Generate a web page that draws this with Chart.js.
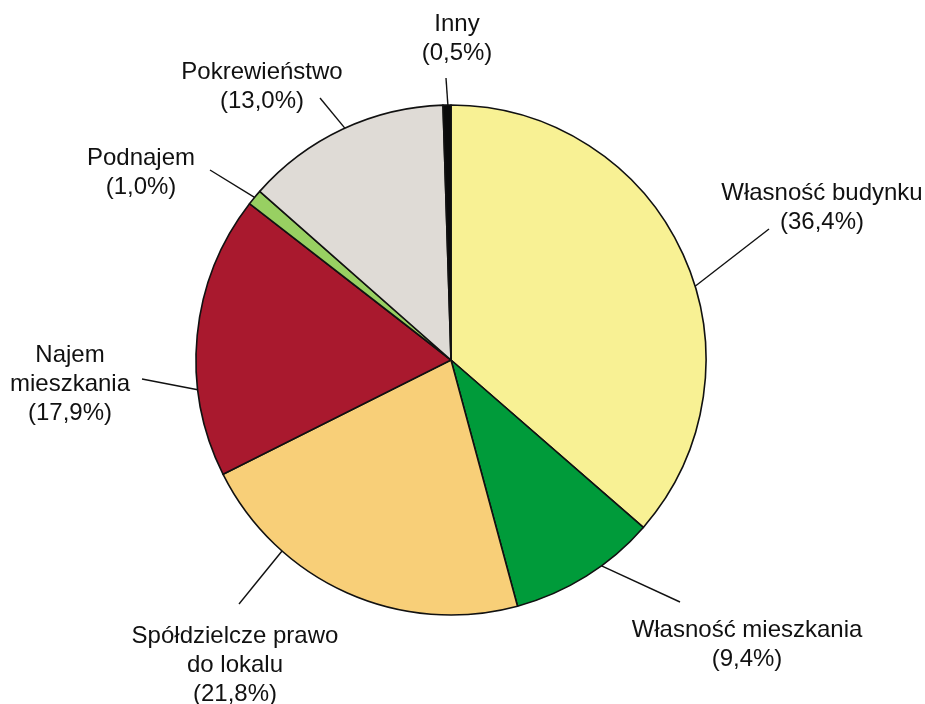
<!DOCTYPE html>
<html>
<head>
<meta charset="utf-8">
<script src="https://cdn.jsdelivr.net/npm/chart.js@4"></script>
<style>
html,body{margin:0;padding:0;background:#fff;}
#wrap{width:925px;height:704px;position:relative;}
</style>
</head>
<body>
<div id="wrap"><canvas id="c" width="925" height="704"></canvas></div>
<script>
// ---- data ----
const categories = [
  ["Własność budynku"],
  ["Własność mieszkania"],
  ["Spółdzielcze prawo", "do lokalu"],
  ["Najem", "mieszkania"],
  ["Podnajem"],
  ["Pokrewieństwo"],
  ["Inny"]
];
const shares = [36.4, 9.4, 21.8, 17.9, 1.0, 13.0, 0.5];
const sliceColors = ["#F8F194", "#009B3A", "#F8CF78", "#A9192E", "#98D062", "#DFDBD6", "#0A0A0A"];

// ---- label layout (annotation placement only) ----
// anchorDeg: where the leader line touches the pie (degrees clockwise from top)
// lineEnd: outer end of leader line; text: centre of first text line
const labelLayout = [
  {anchorDeg: 73.2,  lineEnd: [769, 229], text: [822, 193]},
  {anchorDeg: 143.8, lineEnd: [680, 602], text: [747, 630]},
  {anchorDeg: 221.5, lineEnd: [239, 604], text: [235, 636]},
  {anchorDeg: 263.3, lineEnd: [142, 379], text: [70, 355]},
  {anchorDeg: 309.6, lineEnd: [210, 170], text: [141, 158]},
  {anchorDeg: 335.4, lineEnd: [320, 98],  text: [262, 72]},
  {anchorDeg: 359.3, lineEnd: [446, 78],  text: [457, 24]}
];
const lineGap = 29;

function fmt(v){ return "(" + v.toFixed(1).replace(".", ",") + "%)"; }

const labelPlugin = {
  id: "leaderLabels",
  afterDatasetsDraw(chart) {
    const ctx = chart.ctx;
    const meta = chart.getDatasetMeta(0);
    const arc0 = meta.data[0];
    const cx = arc0.x, cy = arc0.y, R = arc0.outerRadius;
    ctx.save();
    ctx.strokeStyle = "#111";
    ctx.lineWidth = 1.4;
    ctx.fillStyle = "#111";
    ctx.font = "24px 'Liberation Sans', Arial, sans-serif";
    ctx.textAlign = "center";
    ctx.textBaseline = "middle";
    labelLayout.forEach((L, i) => {
      const a = L.anchorDeg * Math.PI / 180;
      const sx = cx + R * Math.sin(a), sy = cy - R * Math.cos(a);
      ctx.beginPath();
      ctx.moveTo(sx, sy);
      ctx.lineTo(L.lineEnd[0], L.lineEnd[1]);
      ctx.stroke();
      const lines = categories[i].concat([fmt(shares[i])]);
      lines.forEach((t, k) => ctx.fillText(t, L.text[0], L.text[1] + k * lineGap));
    });
    ctx.restore();
  }
};

new Chart(document.getElementById("c"), {
  type: "pie",
  data: {
    labels: categories.map(c => c.join(" ")),
    datasets: [{
      data: shares,
      backgroundColor: sliceColors,
      borderColor: "#111",
      borderWidth: 1.6,
      hoverOffset: 0,
      borderJoinStyle: "round"
    }]
  },
  options: {
    responsive: false,
    animation: false,
    devicePixelRatio: 1,
    radius: 255,
    rotation: 0,
    layout: {padding: {left: 196, right: 219, top: 105, bottom: 89}},
    plugins: {legend: {display: false}, tooltip: {enabled: false}},
    events: []
  },
  plugins: [labelPlugin]
});
</script>
</body>
</html>
